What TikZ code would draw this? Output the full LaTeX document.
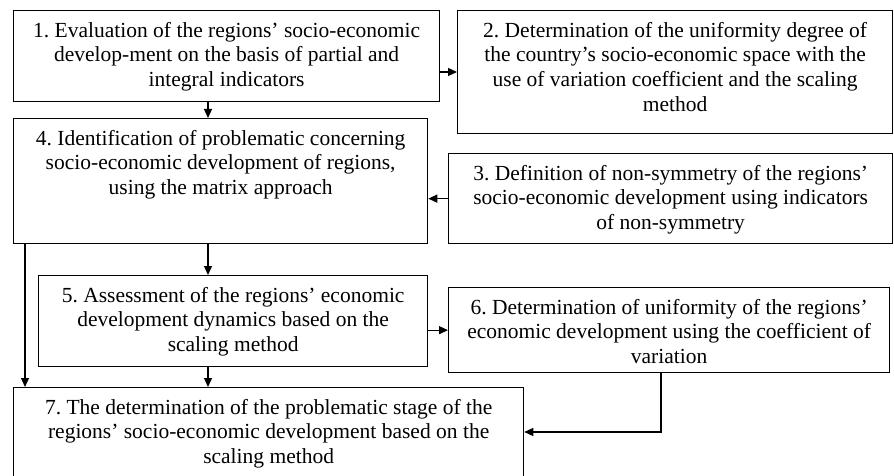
\documentclass[tikz,border=0pt]{standalone}
\usepackage{fontspec}
\setmainfont{Liberation Serif}
\usetikzlibrary{arrows.meta, positioning}
\frenchspacing

\begin{document}
\begin{tikzpicture}[
    x=1pt, y=-1pt,
    stage/.style={draw, line width=1.3pt, anchor=north west, inner sep=0pt},
    stagetext/.style={anchor=north, align=center, inner sep=0pt, font=\fontsize{21.5}{24.6}\selectfont},
    flow/.style={-{Triangle[length=9pt, width=8pt]}, line width=1.3pt}
]
    \useasboundingbox (0,0) rectangle (894,476);

    % Boxes
    \node[stage, minimum width=426pt, minimum height=91pt] (b1) at (13,10) {};
    \node[stage, minimum width=435pt, minimum height=123pt] (b2) at (457,10) {};
    \node[stage, minimum width=414pt, minimum height=125pt] (b4) at (13,118) {};
    \node[stage, minimum width=444pt, minimum height=90pt] (b3) at (448,153) {};
    \node[stage, minimum width=389pt, minimum height=91pt] (b5) at (38,275) {};
    \node[stage, minimum width=441pt, minimum height=85pt] (b6) at (448,287) {};
    \node[stage, minimum width=510pt, minimum height=95pt] (b7) at (13,387) {};

    % Texts
    \node[stagetext] (t1) at ([yshift=-12pt]b1.north) {1. Evaluation of the regions’ socio-economic\\ develop-ment on the basis of partial and\\ integral indicators};
    \node[stagetext] (t2) at ([yshift=-12pt]b2.north) {2. Determination of the uniformity degree of\\ the country’s socio-economic space with the\\ use of variation coefficient and the scaling\\ method};
    \node[stagetext] (t3) at ([yshift=-12pt]b3.north) {3. Definition of non-symmetry of the regions’\\ socio-economic development using indicators\\ of non-symmetry};
    \node[stagetext] (t4) at ([yshift=-12pt]b4.north) {4. Identification of problematic concerning\\ socio-economic development of regions,\\ using the matrix approach};
    \node[stagetext] (t5) at ([yshift=-12pt]b5.north) {5. Assessment of the regions’ economic\\ development dynamics based on the\\ scaling method};
    \node[stagetext] (t6) at ([yshift=-12pt]b6.north) {6. Determination of uniformity of the regions’\\ economic development using the coefficient of\\ variation};
    \node[stagetext] (t7) at ([yshift=-12pt]b7.north) {7. The determination of the problematic stage of the\\ regions’ socio-economic development based on the\\ scaling method};

    % Helper lines
    \coordinate (spine) at (208,0);
    \coordinate (rail) at (25,0);
    \coordinate (drop) at (661,0);
    \coordinate (level) at (0,72);
    \coordinate (entry) at (0,432);

    % Connectors
    \draw[flow] (b1.east |- level) -- (b2.west |- level);
    \draw[flow] (b1.south -| spine) -- (b4.north -| spine);
    \draw[flow] (b3.west) -- (b4.east |- b3.west);
    \draw[flow] (b4.south -| spine) -- (b5.north -| spine);
    \draw[flow] (b5.east |- b6.west) -- (b6.west);
    \draw[flow] (b5.south -| spine) -- (b7.north -| spine);
    \draw[flow] (b4.south -| rail) -- (b7.north -| rail);
    \draw[flow] (b6.south -| drop) |- (b7.east |- entry);
\end{tikzpicture}
\end{document}
